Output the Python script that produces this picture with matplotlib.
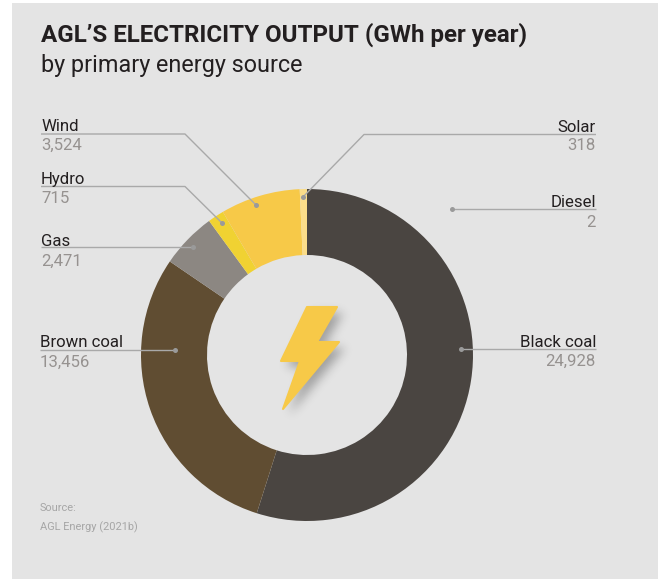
import matplotlib
matplotlib.use("Agg")
import matplotlib.pyplot as plt
import numpy as np
from matplotlib.patches import Polygon, Rectangle
from matplotlib.path import Path

plt.rcParams['font.family'] = ['Roboto', 'DejaVu Sans']

# clockwise from the top
sources = ['Black coal', 'Diesel', 'Brown coal', 'Gas', 'Hydro', 'Wind', 'Solar']
output_gwh = [24928, 2, 13456, 2471, 715, 3524, 318]
colors = ['#4a4541', '#4a4541', '#604d32', '#8c8782', '#f0d232', '#f7c948', '#fbdd8a']
value_labels = ['24,928', '2', '13,456', '2,471', '715', '3,524', '318']

title = "AGL\u2019S ELECTRICITY OUTPUT (GWh per year)"
subtitle = "by primary energy source"
source_lines = ['Source:', 'AGL Energy (2021b)']

W, H = 660, 579
BG = '#e4e4e4'
LINE = '#a9a9a9'

# leader lines in pixel positions, from the label edge to the dot
leaders = {
    'Wind': [(41, 134), (185, 134), (256, 205)],
    'Hydro': [(41, 186.5), (185, 186.5), (222, 223)],
    'Gas': [(41, 246.5), (193, 246.5)],
    'Brown coal': [(40, 350), (175, 350)],
    'Solar': [(596, 134.5), (364, 134.5), (303, 197)],
    'Diesel': [(596, 209), (452, 209)],
    'Black coal': [(596, 349), (461, 349)],
}
# name baseline above the line, value baseline below it
text_gaps = {
    'Wind': (3, 16), 'Hydro': (2.8, 16.5), 'Gas': (1, 19), 'Brown coal': (3, 17),
    'Solar': (3, 16), 'Diesel': (2, 17.7), 'Black coal': (2.3, 17),
}
bolt = [(307, 307), (337, 307), (317, 342), (339, 342), (283, 409), (300, 361), (281, 361)]


def flip(pts):
    return [(x, H - y) for x, y in pts]


def blur(a, sigma):
    r = int(sigma * 3)
    k = np.exp(-np.arange(-r, r + 1) ** 2 / (2 * sigma ** 2))
    k = k / k.sum()
    a = np.apply_along_axis(lambda v: np.convolve(v, k, mode='same'), 0, a)
    return np.apply_along_axis(lambda v: np.convolve(v, k, mode='same'), 1, a)


fig = plt.figure(figsize=(W / 100, H / 100), dpi=100, facecolor='white')
ax = fig.add_axes([0, 0, 1, 1])

ax.add_patch(Rectangle((12, 0), 646, H - 3, fc=BG, ec='none', zorder=0))

ax.pie(output_gwh, colors=colors, startangle=90, counterclock=False, center=(307, H - 355),
       radius=166, frame=True, wedgeprops=dict(width=66, linewidth=0))

# soft shadow below the bolt
x0, x1, y0, y1 = 250, 370, H - 440, H - 280
gx, gy = np.meshgrid(np.arange(x0, x1) + 0.5, np.arange(y0, y1) + 0.5)
shifted = flip([(x + 6, y + 6) for x, y in bolt])
mask = Path(shifted).contains_points(np.c_[gx.ravel(), gy.ravel()]).reshape(gx.shape)
rgba = np.zeros(gx.shape + (4,))
rgba[..., 3] = blur(mask.astype(float), 5) * 0.3
ax.imshow(rgba, extent=(x0, x1, y0, y1), origin='lower', zorder=3, interpolation='bilinear')

ax.add_patch(Polygon(flip(bolt), closed=True, fc='#f7c948', ec='#f7c948', lw=1.5,
                     joinstyle='round', zorder=4))

ax.set_xlim(0, W)
ax.set_ylim(0, H)
ax.set_aspect('auto')
ax.axis('off')

ax.text(41, H - 42, title, fontsize=17.4, fontweight='bold', color='#231f20', va='baseline')
ax.text(41, H - 72, subtitle, fontsize=16.85, color='#231f20', va='baseline')

for name, val in zip(sources, value_labels):
    pts = flip(leaders[name])
    xs = [p[0] for p in pts]
    ys = [p[1] for p in pts]
    up, down = text_gaps[name]
    ax.plot(xs, ys, color=LINE, lw=1.0, zorder=5, solid_capstyle='butt')
    ax.plot(xs[-1], ys[-1], 'o', ms=3.6, color='#9a9a9a', mew=0, zorder=6)
    ha = 'right' if xs[0] > 307 else 'left'
    ax.text(xs[0], ys[0] + up, name, fontsize=12.1, color='#231f20', ha=ha, va='baseline', zorder=7)
    ax.text(xs[0], ys[0] - down, val, fontsize=12.1, color='#969290', ha=ha, va='baseline', zorder=7)

ax.text(40, H - 511, source_lines[0], fontsize=7.95, color='#a6a6a6', va='baseline')
ax.text(40, H - 530, source_lines[1], fontsize=7.95, color='#a6a6a6', va='baseline')

fig.savefig('out.png', dpi=100)
